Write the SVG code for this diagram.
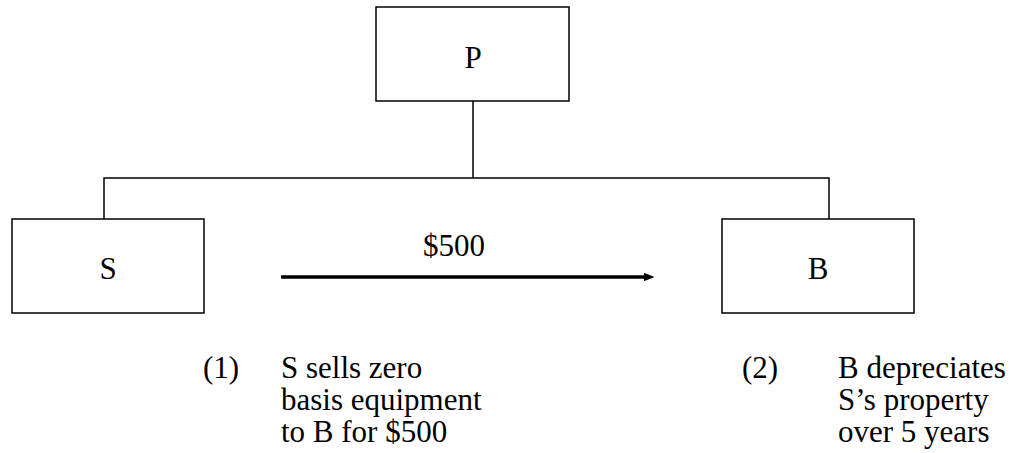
<svg xmlns="http://www.w3.org/2000/svg" width="1013" height="453" viewBox="0 0 1013 453">
<style>
.box{fill:#fff;stroke:#000;stroke-width:1.5}
.t{font-family:"Liberation Serif","Times New Roman",serif;font-size:31px;fill:#000}
.c{text-anchor:middle}
.ln{fill:none;stroke:#000;stroke-width:1.5}
</style>
<defs>
<marker id="ah" viewBox="0 0 10 8" refX="1" refY="4" markerWidth="3" markerHeight="2.4" orient="auto" markerUnits="strokeWidth">
<path d="M0,0 L10,4 L0,8 Z" fill="#000"/>
</marker>
</defs>
<g id="connectors">
<line class="ln" x1="473" y1="101" x2="473" y2="178"/>
<polyline class="ln" points="104,219 104,178 829,178 829,219"/>
<line x1="281" y1="277" x2="645" y2="277" stroke="#000" stroke-width="3.5" marker-end="url(#ah)"/>
<text class="t" x="423" y="256">$500</text>
</g>
<g id="P">
<rect class="box" x="376" y="7" width="193" height="94"/>
<text class="t c" x="473" y="68">P</text>
</g>
<g id="S">
<rect class="box" x="12" y="219" width="192" height="94"/>
<text class="t c" x="108" y="279">S</text>
</g>
<g id="B">
<rect class="box" x="722" y="219" width="192" height="94"/>
<text class="t c" x="818" y="279">B</text>
</g>
<g id="note1">
<text class="t" x="203" y="378">(1)</text>
<text class="t" x="281" y="378">S sells zero</text>
<text class="t" x="281" y="410">basis equipment</text>
<text class="t" x="281" y="442">to B for $500</text>
</g>
<g id="note2">
<text class="t" x="742" y="378">(2)</text>
<text class="t" x="838" y="378">B depreciates</text>
<text class="t" x="838" y="410">S’s property</text>
<text class="t" x="838" y="442">over 5 years</text>
</g>
</svg>
